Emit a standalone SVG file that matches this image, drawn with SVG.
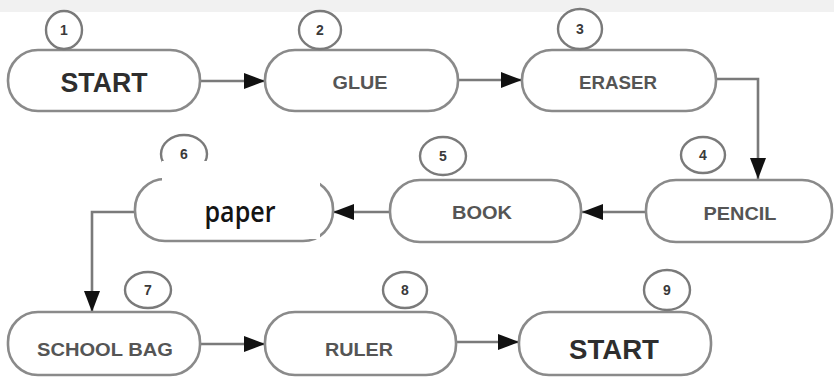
<svg xmlns="http://www.w3.org/2000/svg" width="834" height="381" viewBox="0 0 834 381">
<style>
.cap{fill:#fff;stroke:#8a8a8a;stroke-width:2.6}
.num{fill:#fff;stroke:#7a7a7a;stroke-width:2.4}
.d{font-family:"Liberation Sans",Arial,sans-serif;font-weight:bold;font-size:14px;fill:#3a3a3a;text-anchor:middle}
.lb{font-family:"Liberation Sans",Arial,sans-serif;font-weight:bold;font-size:18px;fill:#555;text-anchor:middle}
.st{font-family:"Liberation Sans",Arial,sans-serif;font-weight:bold;font-size:27px;fill:#2e2e2e;text-anchor:middle}
.cn{fill:none;stroke:#7a7a7a;stroke-width:2.6}
</style>
<defs>
<marker id="ah" markerUnits="userSpaceOnUse" markerWidth="22" markerHeight="18" viewBox="0 0 22 18" refX="21" refY="9" orient="auto">
<path d="M0,1 L21,9 L0,17 z" fill="#111"/>
</marker>
</defs>
<rect x="0" y="0" width="834" height="381" fill="#fff"/>
<rect x="0" y="0" width="834" height="12" fill="#f1f1f1"/>

<g id="connectors">
<path class="cn" d="M200,81 H265" marker-end="url(#ah)"/>
<path class="cn" d="M458,80 H522" marker-end="url(#ah)"/>
<path class="cn" d="M716,79 H758 V179" marker-end="url(#ah)"/>
<path class="cn" d="M646,212 H582" marker-end="url(#ah)"/>
<path class="cn" d="M390,212 H333" marker-end="url(#ah)"/>
<path class="cn" d="M135,212 H92 V312" marker-end="url(#ah)"/>
<path class="cn" d="M200,344 H265" marker-end="url(#ah)"/>
<path class="cn" d="M456,342 H519" marker-end="url(#ah)"/>
</g>

<g id="node1">
<rect class="cap" x="8" y="50" width="192" height="61" rx="30" ry="30"/>
<ellipse class="num" cx="64" cy="30" rx="18" ry="19"/>
<text class="d" x="64" y="35">1</text>
<text class="st" x="104" y="92" textLength="87" lengthAdjust="spacingAndGlyphs">START</text>
</g>
<g id="node2">
<rect class="cap" x="265" y="50" width="193" height="61" rx="30" ry="30"/>
<ellipse class="num" cx="320" cy="30" rx="21" ry="19"/>
<text class="d" x="320" y="35">2</text>
<text class="lb" x="360" y="89" textLength="55" lengthAdjust="spacingAndGlyphs">GLUE</text>
</g>
<g id="node3">
<rect class="cap" x="522" y="50" width="194" height="61" rx="30" ry="30"/>
<ellipse class="num" cx="580" cy="29" rx="22" ry="20"/>
<text class="d" x="580" y="34">3</text>
<text class="lb" x="618" y="89" textLength="78" lengthAdjust="spacingAndGlyphs">ERASER</text>
</g>
<g id="node4">
<rect class="cap" x="646" y="180" width="186" height="62" rx="30" ry="30"/>
<ellipse class="num" cx="703" cy="155" rx="22" ry="18"/>
<text class="d" x="703" y="160">4</text>
<text class="lb" x="740" y="220" textLength="73" lengthAdjust="spacingAndGlyphs">PENCIL</text>
</g>
<g id="node5">
<rect class="cap" x="390" y="180" width="191" height="62" rx="30" ry="30"/>
<ellipse class="num" cx="443" cy="156" rx="23" ry="19"/>
<text class="d" x="443" y="161">5</text>
<text class="lb" x="482" y="219" textLength="60" lengthAdjust="spacingAndGlyphs">BOOK</text>
</g>
<g id="node6">
<rect class="cap" x="135" y="179" width="198" height="62" rx="30" ry="30"/>
<ellipse class="num" cx="184" cy="154" rx="23" ry="19"/>
<text class="d" x="184" y="159">6</text>
<rect x="162" y="161" width="158" height="78" fill="#fff"/>
<text x="240" y="222" font-family="'Open Sans','Liberation Sans',Arial,sans-serif" font-weight="600" font-size="28" fill="#141414" text-anchor="middle" textLength="71" lengthAdjust="spacingAndGlyphs">paper</text>
</g>
<g id="node7">
<rect class="cap" x="8" y="312" width="192" height="63" rx="30" ry="30"/>
<ellipse class="num" cx="148" cy="290" rx="23" ry="18"/>
<text class="d" x="148" y="295">7</text>
<text class="lb" x="105" y="356" textLength="136" lengthAdjust="spacingAndGlyphs">SCHOOL BAG</text>
</g>
<g id="node8">
<rect class="cap" x="265" y="312" width="191" height="63" rx="30" ry="30"/>
<ellipse class="num" cx="405" cy="290" rx="22" ry="18"/>
<text class="d" x="405" y="295">8</text>
<text class="lb" x="359" y="356" textLength="68" lengthAdjust="spacingAndGlyphs">RULER</text>
</g>
<g id="node9">
<rect class="cap" x="519" y="312" width="192" height="63" rx="30" ry="30"/>
<ellipse class="num" cx="667" cy="290" rx="23" ry="20"/>
<text class="d" x="667" y="295">9</text>
<text class="st" x="614" y="359" textLength="90" lengthAdjust="spacingAndGlyphs">START</text>
</g>
</svg>
